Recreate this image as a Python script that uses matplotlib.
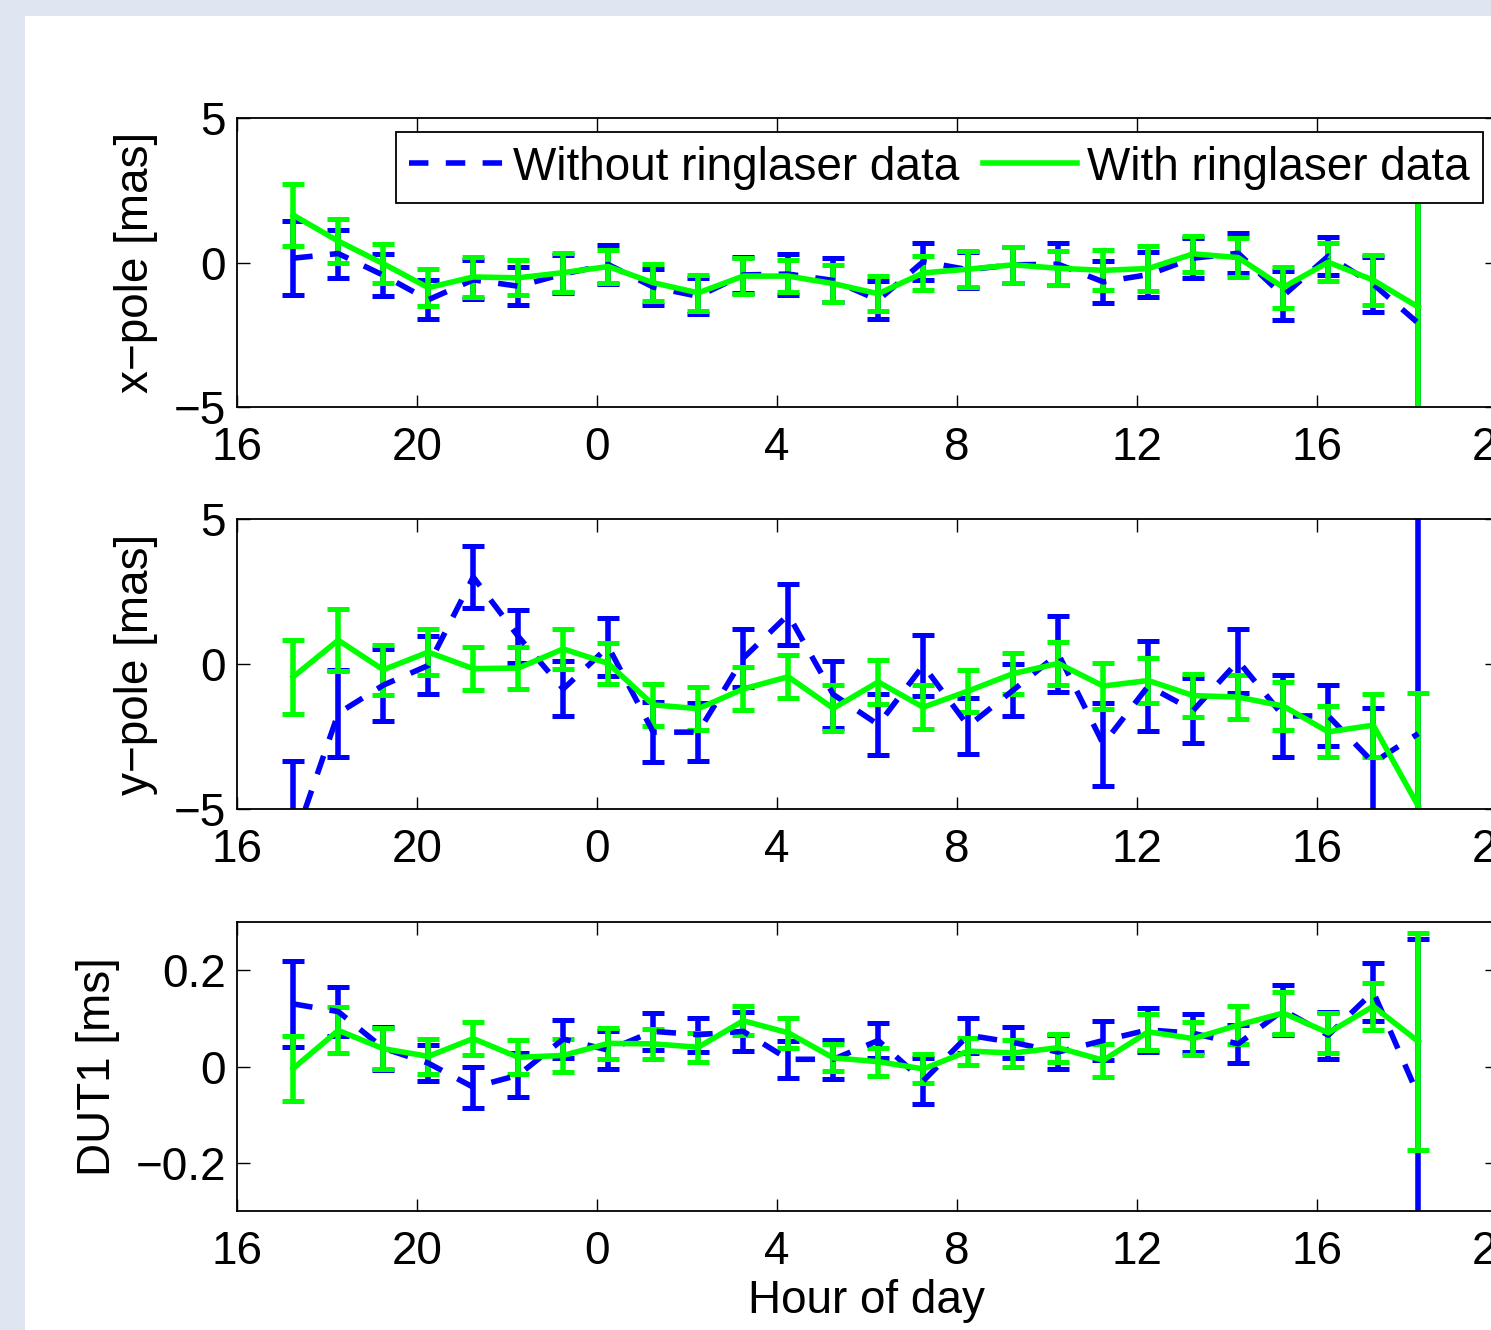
import matplotlib
matplotlib.use('Agg')
import matplotlib.pyplot as plt
from matplotlib.patches import Rectangle

plt.rcParams['font.family'] = ['Liberation Sans', 'DejaVu Sans']
plt.rcParams['lines.scale_dashes'] = False

# hour of observation (continuous, 16 = 16:00 of first day)
hours = [17.25, 18.25, 19.25, 20.25, 21.25, 22.25, 23.25, 24.25, 25.25, 26.25,
         27.25, 28.25, 29.25, 30.25, 31.25, 32.25, 33.25, 34.25, 35.25, 36.25,
         37.25, 38.25, 39.25, 40.25, 41.25, 42.25]

# x-pole [mas]
xp_without = [0.15, 0.31, -0.44, -1.29, -0.60, -0.82, -0.40, -0.07, -0.85, -1.17,
              -0.43, -0.40, -0.62, -1.30, 0.03, -0.25, -0.08, -0.06, -0.67, -0.42,
              0.15, 0.32, -1.15, 0.22, -0.75, -2.10]
xp_without_err = [1.27, 0.83, 0.72, 0.68, 0.68, 0.66, 0.65, 0.67, 0.61, 0.62,
                  0.62, 0.71, 0.76, 0.65, 0.63, 0.63, 0.62, 0.73, 0.73, 0.79,
                  0.70, 0.70, 0.85, 0.66, 0.95, 5.5]
xp_with = [1.64, 0.74, -0.04, -0.87, -0.50, -0.53, -0.35, -0.14, -0.70, -1.05,
           -0.47, -0.47, -0.73, -1.08, -0.36, -0.23, -0.08, -0.20, -0.27, -0.21,
           0.30, 0.17, -0.86, 0.01, -0.61, -1.54]
xp_with_err = [1.07, 0.77, 0.67, 0.63, 0.69, 0.61, 0.67, 0.57, 0.64, 0.63,
               0.63, 0.55, 0.63, 0.61, 0.60, 0.62, 0.62, 0.59, 0.69, 0.77,
               0.62, 0.67, 0.71, 0.65, 0.87, 4.0]

# y-pole [mas]
yp_without = [-6.20, -1.70, -0.73, -0.05, 3.00, 0.95, -0.86, 0.60, -2.35, -2.35,
              0.20, 1.70, -1.05, -2.09, -0.05, -2.14, -0.90, 0.35, -2.76, -0.76,
              -1.60, 0.10, -1.79, -1.79, -3.40, -2.40]
yp_without_err = [2.85, 1.50, 1.25, 1.00, 1.08, 0.92, 0.95, 1.00, 1.03, 1.00,
                  1.00, 1.05, 1.15, 1.06, 1.05, 0.97, 0.90, 1.30, 1.43, 1.56,
                  1.12, 1.10, 1.40, 1.05, 1.90, 10.0]
yp_with = [-0.44, 0.82, -0.20, 0.41, -0.16, -0.14, 0.52, 0.02, -1.41, -1.54,
           -0.86, -0.44, -1.53, -0.62, -1.49, -0.93, -0.33, 0.02, -0.76, -0.57,
           -1.09, -1.14, -1.45, -2.34, -2.11, -4.90]
yp_with_err = [1.28, 1.06, 0.86, 0.80, 0.73, 0.71, 0.69, 0.71, 0.72, 0.73,
               0.74, 0.74, 0.79, 0.76, 0.75, 0.73, 0.70, 0.74, 0.79, 0.78,
               0.75, 0.75, 0.83, 0.88, 1.08, 3.90]

# DUT1 [ms]
dut_without = [0.130, 0.114, 0.038, 0.007, -0.043, -0.018, 0.057, 0.034, 0.073, 0.066,
               0.073, 0.015, 0.015, 0.054, -0.030, 0.065, 0.050, 0.030, 0.054, 0.076,
               0.069, 0.047, 0.117, 0.065, 0.155, -0.060]
dut_without_err = [0.090, 0.051, 0.045, 0.038, 0.043, 0.045, 0.040, 0.039, 0.038, 0.035,
                   0.040, 0.038, 0.041, 0.036, 0.047, 0.036, 0.033, 0.035, 0.040, 0.045,
                   0.039, 0.040, 0.052, 0.049, 0.060, 0.325]
dut_with = [-0.004, 0.075, 0.037, 0.021, 0.058, 0.019, 0.023, 0.048, 0.047, 0.040,
            0.095, 0.070, 0.018, 0.010, -0.005, 0.032, 0.028, 0.039, 0.013, 0.072,
            0.058, 0.086, 0.111, 0.070, 0.125, 0.052]
dut_with_err = [0.067, 0.048, 0.043, 0.036, 0.035, 0.035, 0.034, 0.032, 0.031, 0.030,
                0.030, 0.031, 0.028, 0.029, 0.030, 0.028, 0.028, 0.029, 0.034, 0.037,
                0.035, 0.039, 0.044, 0.042, 0.049, 0.225]

x_ticks = [16, 20, 24, 28, 32, 36, 40, 44]
x_tick_labels = ['16', '20', '0', '4', '8', '12', '16', '20']

panels = [
    ('x\u2212pole [mas]', xp_without, xp_without_err, xp_with, xp_with_err,
     (-5, 5), [-5, 0, 5], ['\u22125', '0', '5']),
    ('y\u2212pole [mas]', yp_without, yp_without_err, yp_with, yp_with_err,
     (-5, 5), [-5, 0, 5], ['\u22125', '0', '5']),
    ('DUT1 [ms]', dut_without, dut_without_err, dut_with, dut_with_err,
     (-0.3, 0.3), [-0.2, 0, 0.2], ['\u22120.2', '0', '0.2']),
]

W, H = 1491, 1330
FS = 33
BLUE = '#0000FF'
GREEN = '#00FF00'
LW = 4.0

fig = plt.figure(figsize=(W / 100, H / 100), dpi=100)
fig.patch.set_facecolor('#DFE6F2')
fig.add_artist(Rectangle((25 / W, 0), 1, (H - 16) / H, transform=fig.transFigure,
                         facecolor='white', edgecolor='none', zorder=-5))

# axes boxes in pixels (top, bottom); right edge runs past the image
ax_left, ax_right = 237, 1497
rows = [(118, 407), (519, 809), (922, 1211)]

axes = []
for (top, bot), (ylabel, yb, eb_, yg, eg, ylim, yt, ytl) in zip(rows, panels):
    ax = fig.add_axes([ax_left / W, (H - bot) / H, (ax_right - ax_left) / W, (bot - top) / H])
    h_without = ax.errorbar(hours, yb, yerr=eb_, color=BLUE, linestyle=(0, (14, 12.5)),
                            linewidth=LW, elinewidth=LW, capsize=8, capthick=3.6)
    h_with = ax.errorbar(hours, yg, yerr=eg, color=GREEN, linestyle='-',
                         linewidth=LW, elinewidth=LW, capsize=8, capthick=3.6)
    ax.set_xlim(16, 44)
    ax.set_ylim(*ylim)
    ax.set_xticks(x_ticks)
    ax.set_xticklabels(x_tick_labels)
    ax.set_yticks(yt)
    ax.set_yticklabels(ytl)
    ax.tick_params(direction='in', length=9, width=1, top=True, right=True,
                   labelsize=FS, colors='black')
    ax.tick_params(axis='x', pad=14)
    ax.tick_params(axis='y', pad=8)
    for sp in ax.spines.values():
        sp.set_linewidth(1.3)
    ax.set_ylabel(ylabel, fontsize=FS, labelpad=11)
    axes.append((ax, h_without, h_with))

ax0, hb, hg = axes[0]
leg = ax0.legend([hb[0], hg[0]], ['Without ringlaser data', 'With ringlaser data'],
                 loc='upper right', ncol=2, fontsize=FS, frameon=True, fancybox=False,
                 framealpha=1, edgecolor='black', borderpad=0.3, borderaxespad=0.3,
                 handlelength=2.05, handletextpad=0.22, columnspacing=0.5)
leg.get_frame().set_linewidth(1.3)
leg.set_zorder(10)

axes[2][0].set_xlabel('Hour of day', fontsize=FS, labelpad=3)

fig.savefig('out.png', dpi=100)
